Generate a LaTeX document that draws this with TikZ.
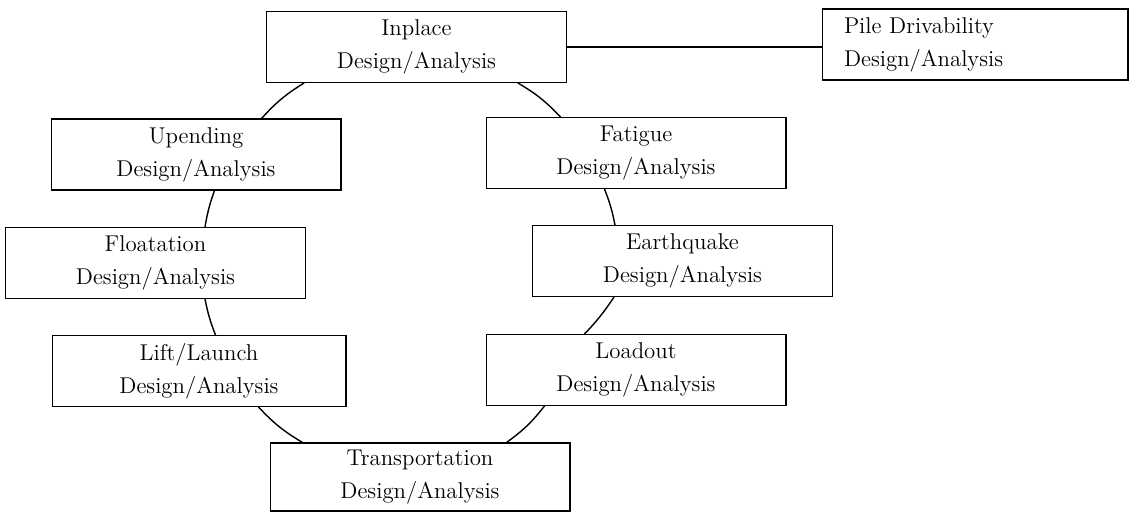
\documentclass[tikz,border=0pt]{standalone}
\usepackage{fontspec}
\usetikzlibrary{calc}

\begin{document}
\begin{tikzpicture}[x=0.02cm,y=-0.02cm]
\tikzset{
  taskbox/.style={rectangle,draw=black,line width=0.6pt,minimum width=6cm,minimum height=1.42cm,align=center,inner sep=2pt,font=\fontsize{13}{18.7}\selectfont},
  arcedge/.style={draw=black,line width=0.8pt,line cap=round},
  plainedge/.style={draw=black,line width=0.6pt}
}
\useasboundingbox (0,0) rectangle (1139,512);
\node[taskbox] (n_inplace) at (416.5,47) {Inplace\\Design/Analysis};
\node[taskbox,minimum width=0cm,text width=5.24cm,inner xsep=0.44cm,align=left] (n_pile) at (975,44.5) {Pile Drivability\\Design/Analysis};
\node[taskbox,minimum width=5.8cm] (n_upending) at (196,154.5) {Upending\\Design/Analysis};
\node[taskbox] (n_fatigue) at (636,153) {Fatigue\\Design/Analysis};
\node[taskbox] (n_floatation) at (155.5,263) {Floatation\\Design/Analysis};
\node[taskbox] (n_earthquake) at (682.5,261) {Earthquake\\Design/Analysis};
\node[taskbox,minimum width=5.88cm] (n_lift) at (199,371) {Lift/Launch\\Design/Analysis};
\node[taskbox] (n_loadout) at (636,370) {Loadout\\Design/Analysis};
\node[taskbox,minimum height=1.36cm] (n_transport) at (420,477) {Transportation\\Design/Analysis};
\draw[plainedge] (n_inplace.east) -- (n_inplace.east -| n_pile.west);
\draw[arcedge] ($(n_inplace.south west)+(38,0)$) to[bend right=8] ($(n_upending.north west)+(211,0)$);
\draw[arcedge] ($(n_inplace.south east)+(-49,0)$) to[bend left=8] ($(n_fatigue.north west)+(75,0)$);
\draw[arcedge] ($(n_upending.south west)+(164,0)$) to[bend right=5] ($(n_floatation.north west)+(200,0)$);
\draw[arcedge] ($(n_fatigue.south west)+(119,0)$) to[bend left=5] ($(n_earthquake.north west)+(83,0)$);
\draw[arcedge] ($(n_floatation.south west)+(200,0)$) to[bend right=5] ($(n_lift.north west)+(164,0)$);
\draw[arcedge] ($(n_earthquake.south west)+(82,0)$) to[bend left=5] ($(n_loadout.north west)+(99,0)$);
\draw[arcedge] ($(n_lift.south west)+(207,0)$) to[bend right=8] ($(n_transport.north west)+(33,0)$);
\draw[arcedge] ($(n_loadout.south west)+(59,0)$) to[bend left=8] ($(n_transport.north west)+(237,0)$);
\end{tikzpicture}
\end{document}
